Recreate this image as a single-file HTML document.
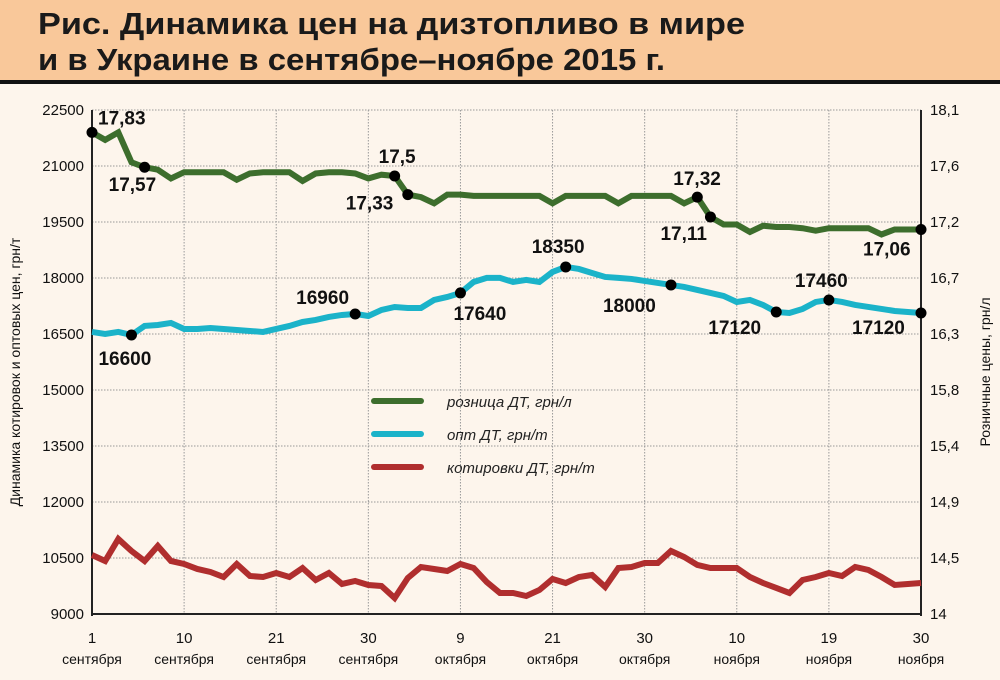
<!DOCTYPE html>
<html><head><meta charset="utf-8"><style>
body{margin:0;background:#fdf5ec;}
svg{display:block;font-family:"Liberation Sans","DejaVu Sans",sans-serif;}
</style></head><body>
<svg id="chart" width="1000" height="680" viewBox="0 0 1000 680">
<rect x="0" y="0" width="1000" height="680" fill="#fdf5ec"/>
<rect x="0" y="0" width="1000" height="80" fill="#f9c89a"/>
<rect x="0" y="80" width="1000" height="4" fill="#111"/>
<text x="38" y="34" font-size="31" font-weight="bold" fill="#1a1a1a" textLength="707" lengthAdjust="spacingAndGlyphs">Рис. Динамика цен на дизтопливо в мире</text>
<text x="38" y="70" font-size="31" font-weight="bold" fill="#1a1a1a" textLength="627" lengthAdjust="spacingAndGlyphs">и в Украине в сентябре–ноябре 2015 г.</text>
<g id="grid"></g>
<g id="axes"></g>
<g id="series"></g>
<g id="legend">
 <line x1="374" y1="401" x2="421" y2="401" stroke="#3d6e2d" stroke-width="6" stroke-linecap="round"/>
 <text x="447" y="407" font-size="15" font-style="italic" fill="#222">розница ДТ, грн/л</text>
 <line x1="374" y1="434" x2="421" y2="434" stroke="#1bb3c9" stroke-width="6" stroke-linecap="round"/>
 <text x="447" y="440" font-size="15" font-style="italic" fill="#222">опт ДТ, грн/т</text>
 <line x1="374" y1="467" x2="421" y2="467" stroke="#b02e2e" stroke-width="6" stroke-linecap="round"/>
 <text x="447" y="473" font-size="15" font-style="italic" fill="#222">котировки ДТ, грн/т</text>
</g>
<text transform="translate(20,372) rotate(-90)" text-anchor="middle" font-size="14" fill="#111">Динамика котировок и оптовых цен, грн/т</text>
<text transform="translate(990,372) rotate(-90)" text-anchor="middle" font-size="14" fill="#111">Розничные цены, грн/л</text>
</svg>
<script>
const retail=[17.87,17.81,17.87,17.63,17.59,17.57,17.50,17.55,17.55,17.55,17.55,17.49,17.54,17.55,17.55,17.55,17.48,17.54,17.55,17.55,17.54,17.50,17.53,17.52,17.37,17.35,17.30,17.37,17.37,17.36,17.36,17.36,17.36,17.36,17.36,17.30,17.36,17.36,17.36,17.36,17.30,17.36,17.36,17.36,17.36,17.30,17.35,17.19,17.13,17.13,17.07,17.12,17.11,17.11,17.10,17.08,17.10,17.10,17.10,17.10,17.05,17.09,17.09,17.09];
const wholesale=[16555,16501,16555,16474,16716,16742,16796,16635,16635,16662,16635,16608,16581,16555,16635,16716,16822,16876,16957,17010,17037,16983,17144,17224,17197,17197,17412,17492,17600,17894,18002,18002,17894,17948,17894,18162,18296,18242,18135,18028,18002,17975,17921,17867,17814,17760,17680,17600,17519,17358,17412,17278,17090,17063,17171,17358,17412,17358,17278,17224,17171,17117,17090,17063];
const quotes=[10581,10420,11009,10688,10420,10822,10420,10340,10206,10125,9991,10340,10018,9991,10098,9991,10232,9911,10098,9804,9884,9777,9750,9429,9964,10259,10206,10152,10340,10232,9857,9563,9563,9482,9643,9938,9830,9991,10045,9723,10232,10259,10366,10366,10688,10527,10313,10232,10232,10232,9991,9830,9697,9563,9911,9991,10098,10018,10259,10179,9991,9777,9804,9830];
const leftTicks=[9000,10500,12000,13500,15000,16500,18000,19500,21000,22500];
const rightTickLabels=["14","14,5","14,9","15,4","15,8","16,3","16,7","17,2","17,6","18,1"];
const xDays=["1","10","21","30","9","21","30","10","19","30"];
const xMonths=["сентября","сентября","сентября","сентября","октября","октября","октября","ноября","ноября","ноября"];
const retailNotes=[[0,"17,83"],[4,"17,57"],[23,"17,5"],[24,"17,33"],[46,"17,32"],[47,"17,11"],[63,"17,06"]];
const wholesaleNotes=[[3,"16600"],[20,"16960"],[28,"17640"],[36,"18350"],[44,"18000"],[52,"17120"],[56,"17460"],[63,"17120"]];
const retailOff=[[6,-8,"start"],[-36,24,"start"],[-16,-13,"start"],[-62,15,"start"],[-24,-12,"start"],[-50,23,"start"],[-58,26,"start"]];
const wholeOff=[[-33,30,"start"],[-59,-10,"start"],[-7,27,"start"],[-34,-14,"start"],[-68,27,"start"],[-68,22,"start"],[-34,-13,"start"],[-69,21,"start"]];

const X0=92,X1=921,Y0=614,Y1=110;
const N=quotes.length;
const xs=i=>X0+(X1-X0)*i/(N-1);
const yL=v=>Y0-(v-9000)/(22500-9000)*(Y0-Y1);
const yR=v=>Y0-(v-14)/(18.05-14)*(Y0-Y1);
const NS="http://www.w3.org/2000/svg";
function mk(tag,attrs,parent){const e=document.createElementNS(NS,tag);for(const k in attrs)e.setAttribute(k,attrs[k]);parent.appendChild(e);return e;}
const grid=document.getElementById('grid'),axes=document.getElementById('axes'),ser=document.getElementById('series');

leftTicks.forEach((t,i)=>{
  const y=yL(t);
  const gl=mk('line',{x1:X0,x2:X1,y1:y,y2:y,stroke:'#999','stroke-width':1,'stroke-dasharray':'1.5,1.5'},grid);
  
  
  const tl=mk('text',{x:84,y:y+5,'text-anchor':'end','font-size':15,fill:'#111'},axes);
  tl.textContent=t;
  
  
  const tr=mk('text',{x:930,y:y+5,'font-size':15,fill:'#111'},axes);
  tr.textContent=rightTickLabels[i];
  
  
});
xDays.forEach((d,i)=>{
  const x=X0+(X1-X0)*i/(xDays.length-1);
  if(i>0&&i<xDays.length-1){
    const vl=mk('line',{x1:x,x2:x,y1:Y1,y2:Y0,stroke:'#999','stroke-width':1,'stroke-dasharray':'1.5,1.5'},grid);
    
    
  }
  const t1=mk('text',{x:x,y:643,'text-anchor':'middle','font-size':15,fill:'#111'},axes);
  t1.textContent=d;
  
  
  const t2=mk('text',{x:x,y:664,'text-anchor':'middle','font-size':14,fill:'#111'},axes);
  t2.textContent=xMonths[i];
  
  
});
const a1=mk('line',{x1:X0,x2:X0,y1:Y1,y2:Y0+2,stroke:'#222','stroke-width':2},axes);


const a2=mk('line',{x1:X1,x2:X1,y1:Y1,y2:Y0+2,stroke:'#222','stroke-width':2},axes);


const a3=mk('line',{x1:X0,x2:X1,y1:Y0,y2:Y0,stroke:'#222','stroke-width':2},axes);



function line(vals,yf,color,name){
  const p=mk('polyline',{points:vals.map((v,i)=>xs(i)+','+yf(v)).join(' '),fill:'none',stroke:color,'stroke-width':6,'stroke-linejoin':'miter'},ser);
  
  
}
line(quotes,yL,'#b02e2e','quotes-line');
line(wholesale,yL,'#1bb3c9','wholesale-line');
line(retail,yR,'#3d6e2d','retail-line');

function notes(list,offs,vals,yf,name){
  list.forEach((n,k)=>{
    const x=xs(n[0]),y=yf(vals[n[0]]);
    const c=mk('circle',{cx:x,cy:y,r:5.5,fill:'#000'},ser);
    
    
    const t=mk('text',{x:x+offs[k][0],y:y+offs[k][1],'font-size':19,'font-weight':'bold',fill:'#111'},ser);
    t.textContent=n[1];
    
    
  });
}
notes(retailNotes,retailOff,retail,yR,'retail');
notes(wholesaleNotes,wholeOff,wholesale,yL,'wholesale');
</script>
</body></html>
